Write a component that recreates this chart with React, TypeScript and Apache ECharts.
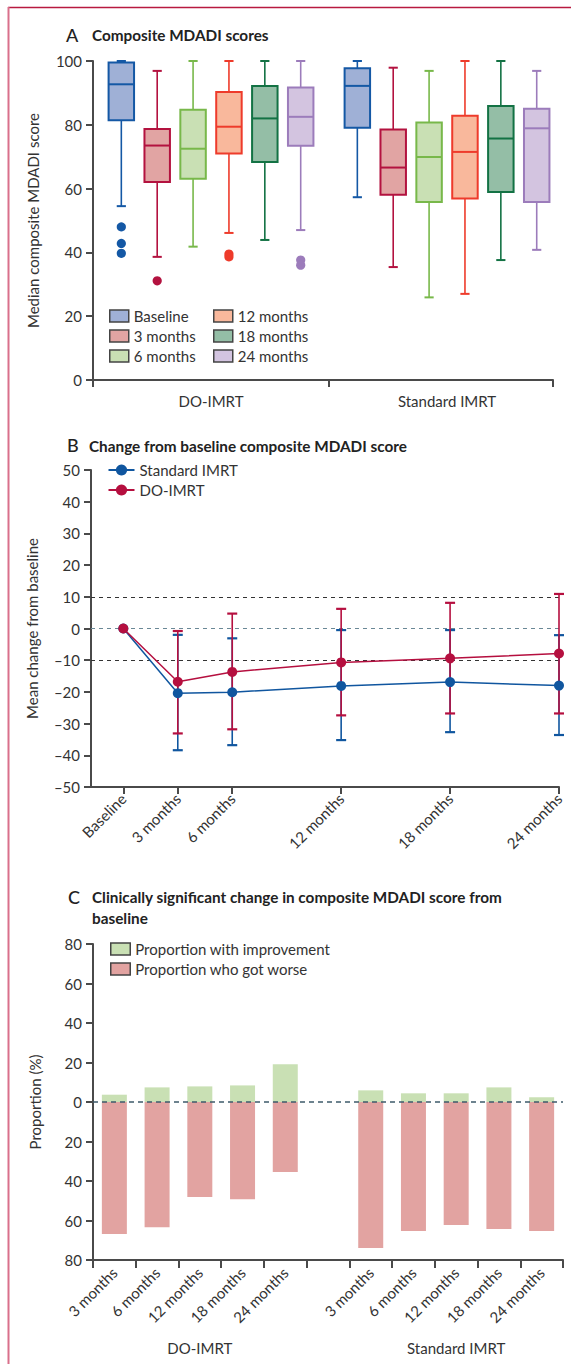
import React, { useEffect, useRef } from "react";
import * as echarts from "echarts";

// ---------------- Panel A: composite MDADI scores (box plots) ----------------
const groupNames = ["DO-IMRT", "Standard IMRT"];
const timePoints = ["Baseline", "3 months", "6 months", "12 months", "18 months", "24 months"];
// [lower whisker, Q1, median, Q3, upper whisker]; first DO-IMRT, then Standard IMRT
const boxBaseline = [[54.5, 81.4, 92.7, 99.5, 100], [57.3, 79.1, 92.2, 97.7, 100]];
const box3m = [[38.6, 62.1, 73.5, 78.7, 96.9], [35.4, 58.1, 66.6, 78.5, 97.9]];
const box6m = [[41.8, 63.1, 72.5, 84.7, 100], [25.9, 55.8, 69.9, 80.7, 96.9]];
const box12m = [[46.1, 71.0, 79.4, 90.3, 100], [27.0, 56.9, 71.5, 82.8, 100]];
const box18m = [[43.9, 68.3, 82.0, 92.2, 100], [37.6, 58.9, 75.7, 85.9, 100]];
const box24m = [[47.0, 73.4, 82.5, 91.7, 100], [40.8, 55.8, 78.9, 85.0, 96.9]];
const outBaseline = [[48.0, 42.8, 39.7], []];
const out3m = [[31.1], []];
const out6m = [[], []];
const out12m = [[39.5, 38.6], []];
const out18m = [[], []];
const out24m = [[37.6, 36.0], []];
const boxData = [boxBaseline, box3m, box6m, box12m, box18m, box24m];
const outlierData = [outBaseline, out3m, out6m, out12m, out18m, out24m];

// ---------------- Panel B: mean change from baseline ----------------
const monthsB = [0, 3, 6, 12, 18, 24];
const monthLabels = ["Baseline", "3 months", "6 months", "12 months", "18 months", "24 months"];
const stdMean = [0, -20.4, -20.1, -18.1, -16.9, -18.0];
const stdUpper = [0, -2.0, -3.1, -0.5, -0.5, -2.1];
const stdLower = [0, -38.4, -36.8, -35.2, -32.7, -33.6];
const doMean = [0, -16.8, -13.7, -10.7, -9.4, -7.9];
const doUpper = [0, -0.8, 4.7, 6.2, 8.1, 10.9];
const doLower = [0, -33.1, -31.8, -27.4, -26.8, -26.8];
const refLinesB = [10, -10];

// ---------------- Panel C: clinically significant change ----------------
const catsC = ["3 months", "6 months", "12 months", "18 months", "24 months"];
const doImproved = [3.7, 7.4, 7.9, 8.4, 19.1];
const doWorse = [66.8, 63.4, 48.1, 49.3, 35.4];
const stdImproved = [5.9, 4.4, 4.4, 7.4, 2.4];
const stdWorse = [73.9, 65.3, 62.3, 64.3, 65.3];

// ---------------- styles ----------------
const FONT = "Lato, 'Noto Sans', sans-serif";
const TXT = "#333333";
const AXIS = "#4a4a4a";
const strokeColors = ["#1458a5", "#b3123f", "#78b84a", "#ee3b2b", "#137244", "#9c7cbb"];
const fillColors = ["#9fb0d6", "#e1a4a3", "#c9e0b4", "#f9b89c", "#94bea6", "#d3c4e0"];
const BLUE = "#10569f";
const CRIMSON = "#b50f3f";
const GREEN_FILL = "#c9e0b4";
const PINK_FILL = "#e2a3a1";

const renderBox = (k: number) => (params: any, api: any) => {
  const g = api.value(0);
  const unit = api.size([1, 0])[0];
  const spacing = unit * 0.152;
  const cx = api.coord([g, 0])[0] + (k - 2.5) * spacing;
  const bw = spacing * 0.71;
  const cw = bw * 0.36;
  const y = (v: number) => api.coord([g, v])[1];
  const yLow = y(api.value(1));
  const yQ1 = y(api.value(2));
  const yMed = y(api.value(3));
  const yQ3 = y(api.value(4));
  const yHigh = y(api.value(5));
  const stroke = strokeColors[k];
  const children: any[] = [
    { type: "line", shape: { x1: cx, y1: yQ3, x2: cx, y2: yHigh }, style: { stroke, lineWidth: 1.6 } },
    { type: "line", shape: { x1: cx, y1: yQ1, x2: cx, y2: yLow }, style: { stroke, lineWidth: 1.6 } },
    { type: "line", shape: { x1: cx - cw / 2, y1: yHigh, x2: cx + cw / 2, y2: yHigh }, style: { stroke, lineWidth: 2 } },
    { type: "line", shape: { x1: cx - cw / 2, y1: yLow, x2: cx + cw / 2, y2: yLow }, style: { stroke, lineWidth: 2 } },
    {
      type: "rect",
      shape: { x: cx - bw / 2, y: yQ3, width: bw, height: yQ1 - yQ3 },
      style: { fill: fillColors[k], stroke, lineWidth: 2 },
    },
    { type: "line", shape: { x1: cx - bw / 2, y1: yMed, x2: cx + bw / 2, y2: yMed }, style: { stroke, lineWidth: 2 } },
  ];
  const outs = outlierData[k][g] || [];
  outs.forEach((v: number) => {
    children.push({ type: "circle", shape: { cx, cy: y(v), r: 4.6 }, style: { fill: stroke } });
  });
  return { type: "group", children };
};

const renderErr = (color: string) => (params: any, api: any) => {
  const m = api.value(0);
  const x = api.coord([m, 0])[0];
  const yLo = api.coord([m, api.value(1)])[1];
  const yHi = api.coord([m, api.value(2)])[1];
  const cw = 10;
  return {
    type: "group",
    children: [
      { type: "line", shape: { x1: x, y1: yLo, x2: x, y2: yHi }, style: { stroke: color, lineWidth: 1.6 } },
      { type: "line", shape: { x1: x - cw / 2, y1: yLo, x2: x + cw / 2, y2: yLo }, style: { stroke: color, lineWidth: 2.2 } },
      { type: "line", shape: { x1: x - cw / 2, y1: yHi, x2: x + cw / 2, y2: yHi }, style: { stroke: color, lineWidth: 2.2 } },
    ],
  };
};

const labelStyle = { color: TXT, fontSize: 15, fontFamily: FONT };
const axisLineStyle = { show: true, onZero: false, lineStyle: { color: AXIS, width: 2 } };
const TITLE_SIZE = 15.3;
const LETTER_SIZE = 18;

function buildOption(): any {
  const slotsC = [...catsC.map((c) => "D|" + c), "gap|", ...catsC.map((c) => "S|" + c)];
  const improvedC = [...doImproved, "-", ...stdImproved];
  const worseC = [...doWorse.map((v) => -v), "-", ...stdWorse.map((v) => -v)];

  const legendCommon = {
    orient: "vertical",
    padding: 0,
    itemGap: 5,
    selectedMode: false,
    textStyle: { color: TXT, fontSize: 15, fontFamily: FONT },
  };

  const series: any[] = [];
  boxData.forEach((bd, k) => {
    series.push({
      type: "custom",
      name: timePoints[k],
      xAxisIndex: 0,
      yAxisIndex: 0,
      itemStyle: { color: fillColors[k], borderColor: strokeColors[k] },
      encode: { x: 0, y: [1, 2, 3, 4, 5] },
      data: bd.map((b, g) => [g, ...b]),
      renderItem: renderBox(k),
      silent: true,
    });
  });

  series.push({
    type: "custom",
    name: "Standard IMRT range",
    xAxisIndex: 1,
    yAxisIndex: 1,
    encode: { x: 0, y: [1, 2] },
    data: monthsB.slice(1).map((m, i) => [m, stdLower[i + 1], stdUpper[i + 1]]),
    renderItem: renderErr(BLUE),
    z: 2,
    silent: true,
  });
  series.push({
    type: "custom",
    name: "DO-IMRT range",
    xAxisIndex: 1,
    yAxisIndex: 1,
    encode: { x: 0, y: [1, 2] },
    data: monthsB.slice(1).map((m, i) => [m, doLower[i + 1], doUpper[i + 1]]),
    renderItem: renderErr(CRIMSON),
    z: 2,
    silent: true,
  });
  series.push({
    type: "line",
    name: "Standard IMRT",
    xAxisIndex: 1,
    yAxisIndex: 1,
    data: monthsB.map((m, i) => [m, stdMean[i]]),
    symbol: "circle",
    symbolSize: 10,
    lineStyle: { color: BLUE, width: 1.5 },
    itemStyle: { color: BLUE },
    z: 3,
    markLine: {
      silent: true,
      symbol: "none",
      z: 1,
      label: { show: false },
      data: [
        ...refLinesB.map((v) => ({ yAxis: v, lineStyle: { color: "#333333", type: [4, 4], width: 1.2 } })),
        { yAxis: 0, lineStyle: { color: "#6a8896", type: [4, 4], width: 1.2 } },
      ],
    },
  });
  series.push({
    type: "line",
    name: "DO-IMRT",
    xAxisIndex: 1,
    yAxisIndex: 1,
    data: monthsB.map((m, i) => [m, doMean[i]]),
    symbol: "circle",
    symbolSize: 10,
    lineStyle: { color: CRIMSON, width: 1.5 },
    itemStyle: { color: CRIMSON },
    z: 4,
  });

  series.push({
    type: "bar",
    name: "Proportion with improvement",
    xAxisIndex: 2,
    yAxisIndex: 2,
    data: improvedC,
    barWidth: 25,
    barGap: "-100%",
    itemStyle: { color: GREEN_FILL },
    markLine: {
      silent: true,
      symbol: "none",
      label: { show: false },
      data: [{ yAxis: 0, lineStyle: { color: "#3e5b6b", type: [5, 4], width: 1.5 } }],
    },
  });
  series.push({
    type: "bar",
    name: "Proportion who got worse",
    xAxisIndex: 2,
    yAxisIndex: 2,
    data: worseC,
    barWidth: 25,
    barGap: "-100%",
    itemStyle: { color: PINK_FILL },
  });

  const titleStyle = { fontSize: TITLE_SIZE, fontWeight: "bold", fontFamily: FONT, fill: "#222", verticalAlign: "middle" };
  const letterStyle = { fontSize: LETTER_SIZE, fontWeight: 500, fontFamily: FONT, fill: "#222", verticalAlign: "middle" };

  return {
    animation: false,
    textStyle: { fontFamily: FONT },
    grid: [
      { left: 93, top: 61, width: 460, height: 319, outerBoundsMode: "none" },
      { left: 91, top: 470, width: 468, height: 317, outerBoundsMode: "none" },
      { left: 93, top: 944, width: 470, height: 316, outerBoundsMode: "none" },
    ],
    xAxis: [
      {
        type: "value",
        gridIndex: 0,
        min: -0.5,
        max: 1.449,
        axisLine: axisLineStyle,
        splitLine: { show: false },
        axisTick: { show: true, length: 7, lineStyle: { color: AXIS, width: 2 }, customValues: [-0.5, 0.5, 1.449] },
        axisLabel: {
          ...labelStyle,
          margin: 13,
          customValues: [0, 1],
          formatter: (v: number) => groupNames[Math.round(v)] || "",
        },
      },
      {
        type: "value",
        gridIndex: 1,
        min: -1.78,
        max: 24,
        axisLine: axisLineStyle,
        splitLine: { show: false },
        axisTick: { show: true, length: 7, lineStyle: { color: AXIS, width: 2 }, customValues: monthsB },
        axisLabel: {
          ...labelStyle,
          rotate: 45,
          margin: 9,
          customValues: monthsB,
          formatter: (v: number) => monthLabels[monthsB.indexOf(Math.round(v))] || "",
        },
      },
      {
        type: "category",
        gridIndex: 2,
        data: slotsC,
        axisLine: axisLineStyle,
        axisTick: { show: true, length: 8, lineStyle: { color: AXIS, width: 2 } },
        axisLabel: {
          ...labelStyle,
          rotate: 45,
          margin: 10,
          interval: 0,
          formatter: (v: string) => v.split("|")[1] || "",
        },
      },
      {
        type: "value",
        gridIndex: 2,
        min: 0,
        max: 11,
        position: "bottom",
        axisLine: { show: false, onZero: false },
        axisTick: { show: false },
        splitLine: { show: false },
        axisLabel: {
          ...labelStyle,
          margin: 80,
          customValues: [2.5, 8.5],
          formatter: (v: number) => (v < 5.5 ? groupNames[0] : groupNames[1]),
        },
      },
    ],
    yAxis: [
      {
        type: "value",
        gridIndex: 0,
        min: 0,
        max: 100,
        interval: 20,
        axisLine: axisLineStyle,
        axisTick: { show: true, length: 7, lineStyle: { color: AXIS, width: 2 } },
        axisLabel: { ...labelStyle, margin: 11 },
        splitLine: { show: false },
        name: "Median composite MDADI score",
        nameLocation: "middle",
        nameGap: 53,
        nameTextStyle: { color: TXT, fontSize: 15, fontFamily: FONT },
      },
      {
        type: "value",
        gridIndex: 1,
        min: -50,
        max: 50,
        interval: 10,
        axisLine: axisLineStyle,
        axisTick: { show: true, length: 7, lineStyle: { color: AXIS, width: 2 } },
        axisLabel: { ...labelStyle, margin: 11, formatter: (v: number) => (v < 0 ? "\u2013" + Math.abs(v) : String(v)) },
        splitLine: { show: false },
        name: "Mean change from baseline",
        nameLocation: "middle",
        nameGap: 52,
        nameTextStyle: { color: TXT, fontSize: 15, fontFamily: FONT },
      },
      {
        type: "value",
        gridIndex: 2,
        min: -80,
        max: 80,
        interval: 20,
        axisLine: axisLineStyle,
        axisTick: { show: true, length: 7, lineStyle: { color: AXIS, width: 2 } },
        axisLabel: { ...labelStyle, margin: 11, formatter: (v: number) => String(Math.abs(v)) },
        splitLine: { show: false },
        name: "Proportion (%)",
        nameLocation: "middle",
        nameGap: 51,
        nameTextStyle: { color: TXT, fontSize: 15, fontFamily: FONT },
      },
    ],
    legend: [
      {
        ...legendCommon,
        left: 109,
        top: 308.5,
        itemWidth: 19,
        itemHeight: 12,
        data: timePoints.slice(0, 3).map((n, i) => ({
          name: n,
          icon: "rect",
          itemStyle: { color: fillColors[i], borderColor: "#444", borderWidth: 1.5 },
        })),
      },
      {
        ...legendCommon,
        left: 213,
        top: 308.5,
        itemWidth: 19,
        itemHeight: 12,
        data: timePoints.slice(3).map((n, i) => ({
          name: n,
          icon: "rect",
          itemStyle: { color: fillColors[i + 3], borderColor: "#444", borderWidth: 1.5 },
        })),
      },
      {
        ...legendCommon,
        left: 107.5,
        top: 462.5,
        itemWidth: 26,
        itemHeight: 14,
        data: ["Standard IMRT", "DO-IMRT"],
      },
      {
        ...legendCommon,
        left: 110,
        top: 941.5,
        itemWidth: 19.5,
        itemHeight: 12,
        data: [
          { name: "Proportion with improvement", icon: "rect", itemStyle: { color: GREEN_FILL, borderColor: "#444", borderWidth: 1.5 } },
          { name: "Proportion who got worse", icon: "rect", itemStyle: { color: PINK_FILL, borderColor: "#444", borderWidth: 1.5 } },
        ],
      },
    ],
    graphic: [
      { type: "line", silent: true, shape: { x1: 8, y1: 7.5, x2: 571, y2: 7.5 }, style: { stroke: "#b81a40", lineWidth: 1.3 } },
      { type: "line", silent: true, shape: { x1: 8.5, y1: 7, x2: 8.5, y2: 1364 }, style: { stroke: "#d9708b", lineWidth: 2 } },
      { type: "text", x: 66, y: 34.5, style: { text: "A", ...letterStyle } },
      { type: "text", x: 92, y: 35, style: { text: "Composite MDADI scores", ...titleStyle } },
      { type: "text", x: 67, y: 445, style: { text: "B", ...letterStyle } },
      { type: "text", x: 89, y: 445.5, style: { text: "Change from baseline composite MDADI score", ...titleStyle } },
      { type: "text", x: 68, y: 897, style: { text: "C", ...letterStyle } },
      {
        type: "text",
        x: 92,
        y: 886,
        style: {
          text: "Clinically significant change in composite MDADI score from\nbaseline",
          fontSize: TITLE_SIZE,
          lineHeight: 21,
          fontWeight: "bold",
          fontFamily: FONT,
          fill: "#222",
          verticalAlign: "top",
        },
      },
    ],
    series,
  };
}

export default function App() {
  const ref = useRef<HTMLDivElement>(null);
  useEffect(() => {
    if (!ref.current) return;
    const chart = echarts.init(ref.current, null, { renderer: "svg" });
    chart.setOption(buildOption());
    return () => chart.dispose();
  }, []);
  return (
    <div
      ref={ref}
      style={{ position: "absolute", left: 0, top: 0, width: 571, height: 1364, background: "#ffffff" }}
    />
  );
}
